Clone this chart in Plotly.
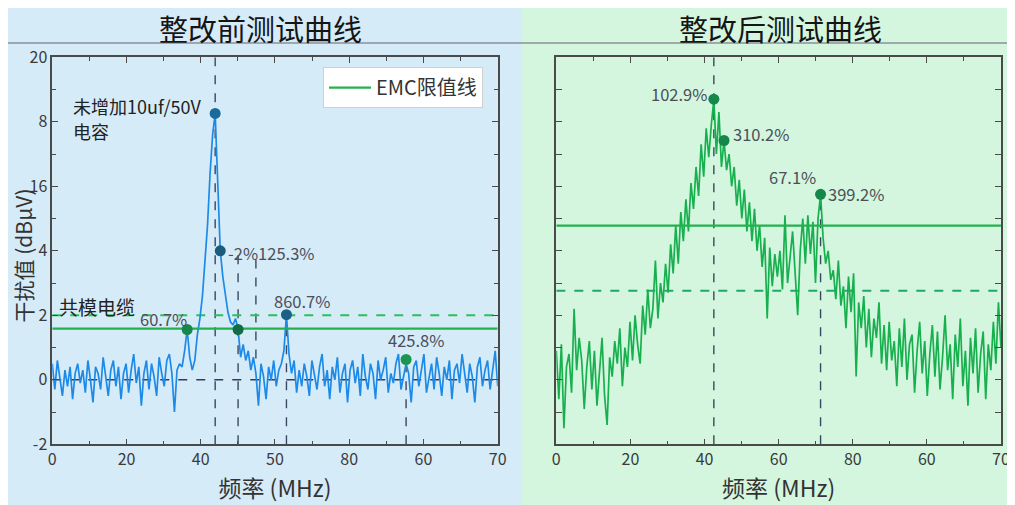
import plotly.graph_objects as go

# ---- data (y in axis units -2..10) ----
FREQ_STEP = 0.4   # MHz per sample on the plotted scale

before_vals = [
    0.5, -0.3, 0.6, 0.1, -0.5, 0.3, -0.2, 0.4, -0.6, 0.2,
    0.5, -0.1, 0.3, -0.4, 0.6, 0.0, -0.7, 0.4, 0.2, -0.3,
    0.7, 0.1, -0.5, 0.3, 0.6, -0.2, 0.4, -0.6, 0.2, 0.5,
    -0.4, 0.3, 0.8, -0.1, 0.4, -0.8, 0.2, 0.6, -0.3, 0.5,
    0.1, -0.5, 0.7, 0.2, -0.2, 0.6, 0.8, 0.2, -1.0, 0.3,
    0.5, 0.4, 0.9, 1.56, 0.7, 0.3, 0.6, 1.4, 1.9, 2.6,
    3.6, 4.8, 6.4, 7.6, 8.26, 5.9, 4.0, 3.2, 2.6, 2.1,
    1.8, 1.7, 1.9, 1.56, 0.7, 1.1, 0.6, 0.9, 0.3, 0.7,
    0.2, -0.8, 0.5, 0.1, -0.6, 0.4, 0.0, 0.6, -0.2, 0.3,
    0.5, 0.9, 2.02, 0.8, 0.2, 0.6, -0.4, 0.3, -0.2, 0.5,
    0.1, -0.5, 0.6, 0.2, -0.3, 0.4, 0.8, -0.2, 0.3, -0.6,
    0.4, 0.0, 0.7, -0.4, 0.2, 0.5, -0.7, 0.3, 0.6, -0.1,
    0.4, -0.5, 0.8, 0.1, -0.3, 0.5, 0.2, -0.6, 0.6, 0.0,
    0.3, 0.7, -0.4, 0.2, -0.1, 0.5, 0.8, -0.3, 0.1, 0.5,
    0.2, -0.7, 0.4, 0.6, -0.2, 0.3, 0.8, -0.4, 0.1, 0.5,
    -0.3, 0.7, 0.2, -0.5, 0.4, 0.0, 0.6, -0.6, 0.3, 0.5,
    -0.1, 0.8, 0.2, -0.4, 0.5, 0.1, -0.7, 0.4, 0.7, -0.2,
    0.3, 0.6, -0.3, 0.4, 0.9, -0.2,
]

after_vals = [
    0.9, -0.6, 1.1, -1.5, 0.4, 0.8, -0.4, 2.2, 0.3, 1.3,
    0.6, -0.9, 0.4, 1.2, -0.3, 0.9, -0.8, 0.3, 1.3, -0.5,
    -1.4, 0.7, 0.1, 1.2, 0.5, 1.6, -0.2, 1.0, 0.4, 1.8,
    0.6, 2.0, 1.1, 0.5, 2.3, 1.4, 2.8, 1.6, 2.2, 3.7,
    1.9, 3.0, 2.4, 3.6, 2.7, 4.2, 3.3, 4.8, 3.6, 5.2,
    4.3, 5.6, 4.6, 6.1, 5.3, 6.6, 5.7, 7.3, 6.3, 7.8,
    6.9, 7.9, 8.70, 7.0, 8.3, 6.6, 7.42, 6.5, 7.0, 6.0,
    6.6, 5.4, 6.2, 5.0, 5.9, 4.6, 5.5, 4.3, 5.3, 4.0,
    4.8, 3.5, 4.4, 1.9, 4.1, 2.9, 3.9, 3.2, 4.0, 2.8,
    5.1, 3.0, 3.8, 4.6, 3.3, 2.0, 4.0, 5.0, 3.6, 5.1,
    3.9, 4.9, 3.0, 5.0, 5.75, 4.4, 3.6, 4.0, 3.1, 3.4,
    2.5, 3.7, 2.3, 2.9, 1.6, 3.2, 2.1, 3.3, 0.1, 2.4,
    1.6, 2.6, 1.0, 2.2, 0.7, 1.9, 1.3, 2.4, 0.5, 1.7,
    0.3, 1.8, 0.6, 1.2, -0.2, 1.6, 0.4, 1.9, 0.0, 1.1,
    1.4, -0.4, 0.9, 1.8, 0.2, 1.2, -0.5, 0.8, 1.7, 0.1,
    1.5, -0.3, 0.7, 2.0, 0.3, 1.1, -0.6, 1.4, 0.4, 1.9,
    -0.2, 0.9, -0.8, 1.3, 0.2, 1.6, -0.4, 0.8, 1.5, -0.6,
    1.1, 0.3, 1.8, 0.5, 2.4, 1.0,
]

freq_before = [round(i * FREQ_STEP, 1) for i in range(len(before_vals))]
freq_after = [round(i * FREQ_STEP, 1) for i in range(len(after_vals))]

# tick labels exactly as printed in the picture
x_ticktext_before = ["0", "20", "40", "50", "80", "60", "70"]
x_ticktext_after = ["0", "20", "40", "60", "80", "60", "70"]
y_ticktext_before = ["-2", "0", "2", "4", "16", "8", "20"]

# marked points
before_pts_x = [21.2, 25.6, 26.4, 29.2, 36.8, 55.6]
before_pts_y = [1.56, 8.26, 4.0, 1.56, 2.02, 0.63]
before_pts_color = ["#17864a", "#1b6a9c", "#1b5c7c", "#146c46", "#1b5f86", "#1a9552"]
before_pts_label = ["60.7%", "", "-2%125.3%", "", "860.7%", "425.8%"]

after_pts_x = [24.8, 26.4, 41.6]
after_pts_y = [8.70, 7.42, 5.75]
after_pts_label = ["102.9%", "310.2%", "399.2%"]

# reference lines
emc_before, cm_before, zero_before = 1.59, 2.0, 0.0
emc_after, cm_after = 4.78, 2.76

vlines_before = [(25.6, -2, 10), (29.2, -2, 3.9), (32.0, 0.66, 3.9), (36.8, -2, 2.02), (55.6, -2, 0.63)]
vlines_after = [(24.8, -2, 10), (41.6, -2, 5.75)]

FONT = "Noto Sans CJK SC"
BLUE = "#1e8ae8"
GREEN = "#18b04f"
EMC_GREEN = "#22b24c"
DASH_DARK = "#3a4760"

fig = go.Figure()

# ---- left panel ----
fig.add_trace(go.Scatter(x=[0, 70], y=[zero_before] * 2, mode="lines",
                         line=dict(color="#2c3c62", width=1.6, dash="dash"),
                         showlegend=False, xaxis="x", yaxis="y"))
for xv, y0, y1 in vlines_before:
    fig.add_trace(go.Scatter(x=[xv, xv], y=[y0, y1], mode="lines",
                             line=dict(color=DASH_DARK, width=1.4, dash="dash"),
                             showlegend=False, xaxis="x", yaxis="y"))
fig.add_trace(go.Scatter(x=[0, 70], y=[cm_before] * 2, mode="lines",
                         line=dict(color="#2cc05a", width=2, dash="dash"),
                         showlegend=False, xaxis="x", yaxis="y"))
fig.add_trace(go.Scatter(x=freq_before, y=before_vals, mode="lines",
                         line=dict(color=BLUE, width=1.7),
                         showlegend=False, xaxis="x", yaxis="y"))
fig.add_trace(go.Scatter(x=[0, 70], y=[emc_before] * 2, mode="lines",
                         line=dict(color=EMC_GREEN, width=2.2),
                         name="EMC限值线", showlegend=True, xaxis="x", yaxis="y"))
fig.add_trace(go.Scatter(x=before_pts_x, y=before_pts_y, mode="markers",
                         marker=dict(color=before_pts_color, size=11),
                         showlegend=False, xaxis="x", yaxis="y"))

# ---- right panel ----
for xv, y0, y1 in vlines_after:
    fig.add_trace(go.Scatter(x=[xv, xv], y=[y0, y1], mode="lines",
                             line=dict(color=DASH_DARK, width=1.4, dash="dash"),
                             showlegend=False, xaxis="x2", yaxis="y2"))
fig.add_trace(go.Scatter(x=[0, 70], y=[cm_after] * 2, mode="lines",
                         line=dict(color="#1fa866", width=2, dash="dash"),
                         showlegend=False, xaxis="x2", yaxis="y2"))
fig.add_trace(go.Scatter(x=freq_after, y=after_vals, mode="lines",
                         line=dict(color=GREEN, width=1.7),
                         showlegend=False, xaxis="x2", yaxis="y2"))
fig.add_trace(go.Scatter(x=[0, 70], y=[emc_after] * 2, mode="lines",
                         line=dict(color=EMC_GREEN, width=2.2),
                         showlegend=False, xaxis="x2", yaxis="y2"))
fig.add_trace(go.Scatter(x=after_pts_x, y=after_pts_y, mode="markers",
                         marker=dict(color="#14874a", size=11),
                         showlegend=False, xaxis="x2", yaxis="y2"))

# ---- axes ----
xt = [i * 70 / 6 for i in range(7)]
axis_common = dict(showline=True, linecolor="#4a4a4a", linewidth=1.5, mirror="ticks",
                   ticks="inside", ticklen=6, tickcolor="#4a4a4a", showgrid=False,
                   zeroline=False, automargin=False,
                   tickfont=dict(family=FONT, size=16, color="#3a3a3a"))
xaxis_common = dict(axis_common, range=[0, 70], tickvals=xt,
                    minor=dict(tickvals=[i * 70 / 12 for i in range(1, 12, 2)], ticklen=4,
                               ticks="inside", tickcolor="#4a4a4a"),
                    title=dict(text="频率 (MHz)", font=dict(family=FONT, size=23, color="#333"),
                               standoff=12))

fig.update_layout(
    width=1015, height=505,
    margin=dict(l=0, r=0, t=0, b=0),
    paper_bgcolor="#d6ebf8",
    plot_bgcolor="rgba(0,0,0,0)",
    font=dict(family=FONT, color="#333"),
    xaxis=dict(xaxis_common, domain=[0.0436, 0.4825], anchor="y", ticktext=x_ticktext_before),
    yaxis=dict(axis_common, domain=[0.136, 0.9024], anchor="x", range=[-2, 10],
               tickvals=[-2, 0, 2, 4, 6, 8, 10], ticktext=y_ticktext_before,
               minor=dict(dtick=1, tick0=-1, ticklen=4, ticks="inside", tickcolor="#4a4a4a")),
    xaxis2=dict(xaxis_common, domain=[0.5402, 0.9783], anchor="y2", ticktext=x_ticktext_after),
    yaxis2=dict(axis_common, domain=[0.136, 0.9024], anchor="x2", range=[-2, 10],
                dtick=1, tick0=0, showticklabels=False),
    legend=dict(x=0.468, y=0.883, xanchor="right", yanchor="top", itemwidth=42,
                bgcolor="white", bordercolor="#d0d0d0", borderwidth=1,
                font=dict(family=FONT, size=20, color="#333")),
    shapes=[
        dict(type="rect", xref="paper", yref="paper", x0=0.5064, x1=1.01, y0=-0.02, y1=1.02,
             fillcolor="#d4f6de", line_width=0, layer="below"),
        dict(type="line", xref="paper", yref="paper", x0=-0.01, x1=1.01, y0=0.9307, y1=0.9307,
             line=dict(color="#8a9098", width=1.5)),
    ],
)

# titles
fig.add_annotation(text="整改前测试曲线", x=0.2483, y=0.961, xref="paper", yref="paper",
                   xanchor="center", yanchor="middle", showarrow=False,
                   font=dict(family=FONT, size=29, color="#151515"))
fig.add_annotation(text="整改后测试曲线", x=0.7606, y=0.961, xref="paper", yref="paper",
                   xanchor="center", yanchor="middle", showarrow=False,
                   font=dict(family=FONT, size=29, color="#151515"))
# y axis title, tucked against the left edge as in the picture
fig.add_annotation(text="干扰值 (dBμV)", x=0.0148, y=0.51, xref="paper", yref="paper",
                   textangle=-90, showarrow=False, xanchor="center", yanchor="middle",
                   font=dict(family=FONT, size=21, color="#333"))

# notes in left panel
fig.add_annotation(text="未增加10uf/50V", x=3.0, y=8.5, xref="x", yref="y",
                   xanchor="left", yanchor="middle", showarrow=False,
                   font=dict(family=FONT, size=18, color="#222"))
fig.add_annotation(text="电容", x=3.0, y=7.7, xref="x", yref="y",
                   xanchor="left", yanchor="middle", showarrow=False,
                   font=dict(family=FONT, size=18, color="#222"))
fig.add_annotation(text="共模电缆", x=0.8, y=2.28, xref="x", yref="y",
                   xanchor="left", yanchor="middle", showarrow=False,
                   font=dict(family=FONT, size=19, color="#222"))

# point labels
pct_font = dict(family=FONT, size=16.5, color="#4a4f58")
before_shift = [("right", 2, 10), None, ("left", 6, -2), None, ("center", 16, 14), ("center", 10, 19)]
for px_, py_, lab, sh in zip(before_pts_x, before_pts_y, before_pts_label, before_shift):
    if not lab:
        continue
    fig.add_annotation(text=lab, x=px_, y=py_, xref="x", yref="y", showarrow=False,
                       xanchor=sh[0], xshift=sh[1], yshift=sh[2], font=pct_font)

after_shift = [("right", -5, 5), ("left", 7, 6), ("left", 5, 0)]
for px_, py_, lab, sh in zip(after_pts_x, after_pts_y, after_pts_label, after_shift):
    fig.add_annotation(text=lab, x=px_, y=py_, xref="x2", yref="y2", showarrow=False,
                       xanchor=sh[0], xshift=sh[1], yshift=sh[2], font=pct_font)
fig.add_annotation(text="67.1%", x=after_pts_x[2], y=after_pts_y[2], xref="x2", yref="y2",
                   showarrow=False, xanchor="right", xshift=-3, yshift=17, font=pct_font)

fig.write_html("out.html")
